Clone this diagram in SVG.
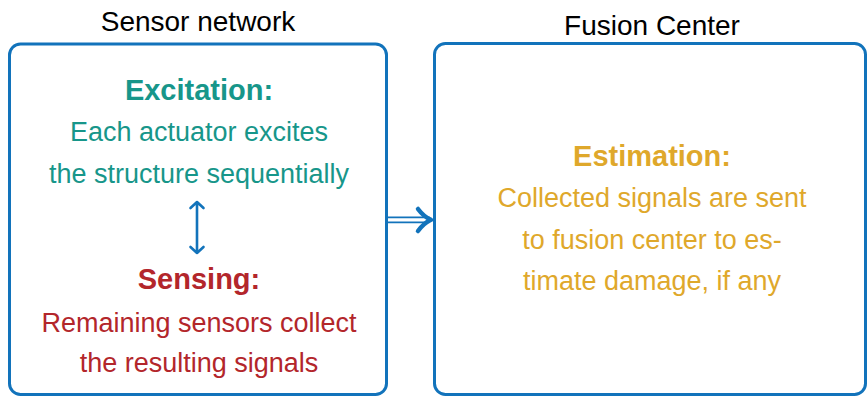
<svg xmlns="http://www.w3.org/2000/svg" width="868" height="397" viewBox="0 0 868 397">
<style>
.box{fill:#fff;stroke:#1273bb;stroke-width:3}
.title{font-family:"Liberation Sans",Arial,sans-serif;font-size:28px;fill:#000;text-anchor:middle}
.h{font-family:"Liberation Sans",Arial,sans-serif;font-size:29px;font-weight:bold;text-anchor:middle}
.t{font-family:"Liberation Sans",Arial,sans-serif;font-size:27px;text-anchor:middle}
.teal{fill:#17968a}.red{fill:#b3262b}.gold{fill:#dfa82b}
.conn{fill:none;stroke:#1273bb;stroke-linecap:round;stroke-linejoin:round}
</style>
<rect width="868" height="397" fill="#fff"/>
<g id="sensor-network">
<rect class="box" x="9.5" y="44" width="377" height="350.5" rx="11"/>
<text class="title" x="198" y="31">Sensor network</text>
<g id="excitation">
<text class="h teal" x="199" y="100">Excitation:</text>
<text class="t teal" x="199" y="141">Each actuator excites</text>
<text class="t teal" x="199" y="183">the structure sequentially</text>
</g>
<g id="sensing">
<text class="h red" x="199" y="289">Sensing:</text>
<text class="t red" x="199" y="332">Remaining sensors collect</text>
<text class="t red" x="199" y="372">the resulting signals</text>
</g>
</g>
<g id="fusion-center">
<rect class="box" x="434.5" y="43.5" width="431" height="351" rx="11"/>
<text class="title" x="652" y="35">Fusion Center</text>
<g id="estimation">
<text class="h gold" x="652" y="166">Estimation:</text>
<text class="t gold" x="652" y="207">Collected signals are sent</text>
<text class="t gold" x="652" y="249">to fusion center to es-</text>
<text class="t gold" x="652" y="290">timate damage, if any</text>
</g>
</g>
<g id="connectors">
<path class="conn" stroke-width="2.6" d="M197 202 V253 M190.5 208 L197 202 L203.5 208 M190.5 247 L197 253 L203.5 247"/>
<path class="conn" stroke-width="1.8" stroke-linecap="butt" d="M388 217.3 H429 M388 222.3 H429"/>
<path class="conn" stroke-width="4.5" d="M418 209 Q424 217 431 219.8 Q424 223 418 231"/>
</g>
</svg>
